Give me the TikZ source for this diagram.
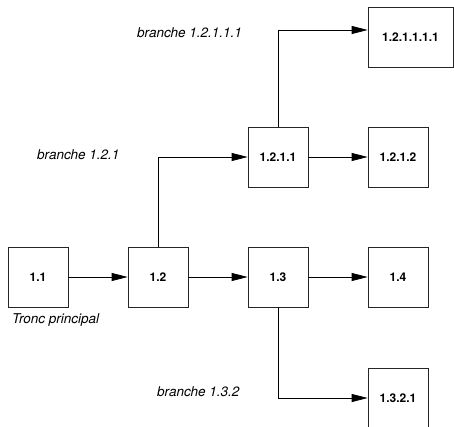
\documentclass[tikz,border=0pt]{standalone}
\usepackage{fontspec}
\setmainfont{TeX Gyre Heros}
\usetikzlibrary{arrows.meta}

\begin{document}
\begin{tikzpicture}[x=1pt,y=-1pt,
  bloc/.style={draw=black!85,line width=0.7pt,minimum width=60pt,minimum height=60pt,inner sep=0pt,
    font=\fontsize{12}{14}\selectfont\bfseries},
  branche/.style={anchor=west,inner sep=0pt,font=\fontsize{13.5}{16}\selectfont\itshape},
  lien/.style={line width=0.7pt,-{Triangle[length=16pt,width=8pt]}}]

\useasboundingbox (0,0) rectangle (454,427);

% tronc principal
\node[bloc] (n11) at (38,277) {1.1};
\node[bloc] (n12) at (158,277) {1.2};
\node[bloc] (n13) at (278,277) {1.3};
\node[bloc] (n14) at (398,277) {1.4};

% branches
\node[bloc] (n1211) at (278,157) {1.2.1.1};
\node[bloc] (n1212) at (398,157) {1.2.1.2};
\node[bloc,minimum width=85pt] (n121111) at (410.5,37) {1.2.1.1.1.1};
\node[bloc] (n1321) at (398,398) {1.3.2.1};

\draw[lien] (n11) -- (n12);
\draw[lien] (n12) -- (n13);
\draw[lien] (n13) -- (n14);
\draw[lien] (n1211) -- (n1212);
\draw[lien] (n12.north) |- (n1211.west);
\draw[lien] (n1211.north) |- ([yshift=7pt]n121111.west);
\draw[lien] (n13.south) |- (n1321.west);

\node[branche] (tronc) at (12,320) {Tronc principal};
\node[branche] (b121) at (37,155) {branche 1.2.1};
\node[branche] (b12111) at (137,33) {branche 1.2.1.1.1};
\node[branche] (b132) at (157,392) {branche 1.3.2};

\end{tikzpicture}
\end{document}
